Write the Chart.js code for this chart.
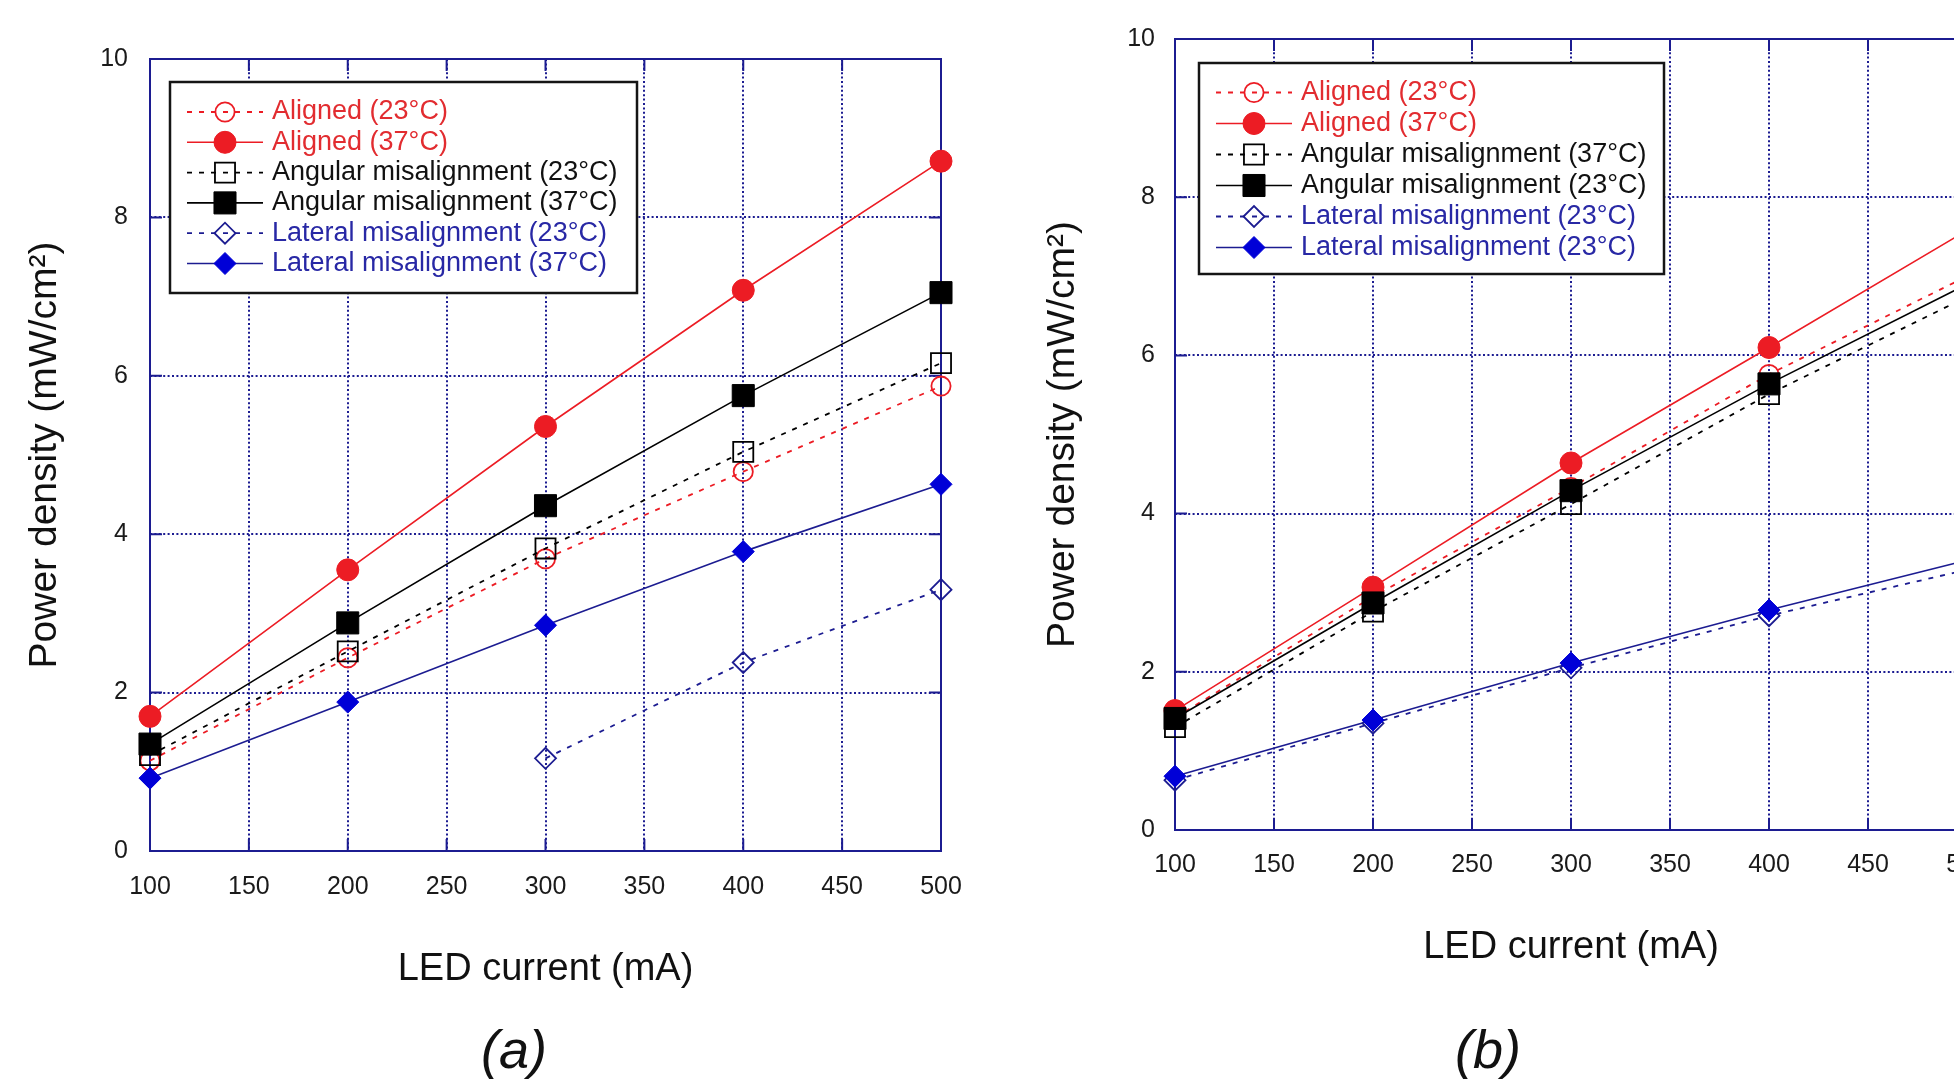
<!DOCTYPE html>
<html>
<head>
<meta charset="utf-8">
<script src="https://cdn.jsdelivr.net/npm/chart.js"></script>
<style>
html, body { margin: 0; padding: 0; background: #fff; overflow: hidden; width: 1954px; height: 1082px; }
canvas { position: absolute; top: 0; }
.panel { position: absolute; top: 1022px; font: italic 54px 'Liberation Sans', Arial, sans-serif; line-height: 54px; transform: translateX(-50%); color: #111; }
</style>
</head>
<body>
<canvas id="chartA" width="977" height="1082" style="left:0"></canvas>
<canvas id="chartB" width="1014" height="1082" style="left:977px"></canvas>
<div class="panel" style="left:514px">(a)</div>
<div class="panel" style="left:1488px">(b)</div>
<script>
// LED current (mA)
const currents = [100, 200, 300, 400, 500];

// panel (a) - power density (mW/cm2)
const aAligned23 = [1.14, 2.44, 3.69, 4.79, 5.87];
const aAligned37 = [1.70, 3.55, 5.36, 7.08, 8.71];
const aAngular23 = [1.21, 2.52, 3.82, 5.04, 6.16];
const aAngular37 = [1.35, 2.88, 4.36, 5.75, 7.05];
const aLateral23 = [null, null, 1.17, 2.38, 3.30];
const aLateral37 = [0.92, 1.88, 2.85, 3.78, 4.63];
const aLabels = ['Aligned (23°C)', 'Aligned (37°C)', 'Angular misalignment (23°C)',
  'Angular misalignment (37°C)', 'Lateral misalignment (23°C)', 'Lateral misalignment (37°C)'];

// panel (b)
const bAligned23 = [1.42, 2.95, 4.33, 5.76, 7.00];
const bAligned37 = [1.51, 3.07, 4.64, 6.10, 7.58];
const bAngular37 = [1.30, 2.76, 4.12, 5.51, 6.74];
const bAngular23 = [1.41, 2.87, 4.29, 5.64, 6.90];
const bLateral23o = [0.63, 1.35, 2.05, 2.71, 3.29];
const bLateral23f = [0.68, 1.39, 2.11, 2.78, 3.41];
const bLabels = ['Aligned (23°C)', 'Aligned (37°C)', 'Angular misalignment (37°C)',
  'Angular misalignment (23°C)', 'Lateral misalignment (23°C)', 'Lateral misalignment (23°C)'];

const yTickMin = 0, yTickMax = 10, yTickStep = 2;
const xTickMin = 100, xTickMax = 500, xTickStep = 50;

const FONT = "'Liberation Sans', Arial, sans-serif";
const RED = 'rgb(236,28,36)';
const NAVY = 'rgb(28,28,145)';
const BLUE = 'rgb(0,0,215)';

// one style per legend row, same order in both panels
const styles = [
  {line: RED, mark: RED, text: 'rgb(226,44,48)', dash: [5, 7], shape: 'circle', r: 9.6, fill: false},
  {line: RED, mark: RED, text: 'rgb(226,44,48)', dash: [], shape: 'circle', r: 11, fill: true},
  {line: '#000', mark: '#000', text: '#111', dash: [5, 7], shape: 'rect', r: 14.2, fill: false},
  {line: '#000', mark: '#000', text: '#111', dash: [], shape: 'rect', r: 15.6, fill: true},
  {line: NAVY, mark: NAVY, text: 'rgb(40,40,165)', dash: [5, 7], shape: 'rectRot', r: 10.5, fill: false},
  {line: NAVY, mark: BLUE, text: 'rgb(40,40,165)', dash: [], shape: 'rectRot', r: 11, fill: true}
];

function makeDatasets(series, labels) {
  return series.map((vals, i) => {
    const st = styles[i];
    return {
      label: labels[i],
      data: currents.map((x, j) => ({x: x, y: vals[j]})),
      borderColor: st.line,
      borderWidth: st.dash.length ? 1.8 : 1.6,
      borderDash: st.dash,
      pointStyle: st.shape,
      pointRadius: st.r,
      pointHoverRadius: st.r,
      pointBackgroundColor: st.fill ? st.mark : 'rgba(0,0,0,0)',
      pointBorderColor: st.mark,
      pointBorderWidth: st.fill ? 1 : 1.8,
      textColor: st.text,
      tension: 0,
      clip: false,
      spanGaps: false,
      order: 10 - i
    };
  });
}

function marker(ctx, shape, r, x, y) {
  ctx.beginPath();
  if (shape === 'circle') {
    ctx.arc(x, y, r, 0, Math.PI * 2);
  } else if (shape === 'rect') {
    const s = r * Math.SQRT1_2;
    ctx.rect(x - s, y - s, 2 * s, 2 * s);
  } else {
    ctx.moveTo(x - r, y); ctx.lineTo(x, y - r); ctx.lineTo(x + r, y); ctx.lineTo(x, y + r);
    ctx.closePath();
  }
  ctx.fill();
  ctx.stroke();
}

// solid frame round the plot with short inward ticks
const frame = {
  id: 'frame',
  beforeDatasetsDraw(chart, args, o) {
    const {ctx, chartArea: a, scales: {x, y}} = chart;
    ctx.save();
    ctx.strokeStyle = o.color;
    ctx.lineWidth = 2;
    ctx.setLineDash([]);
    ctx.strokeRect(a.left, a.top, a.right - a.left, a.bottom - a.top);
    ctx.beginPath();
    x.ticks.forEach(t => {
      const px = x.getPixelForValue(t.value);
      ctx.moveTo(px, a.bottom); ctx.lineTo(px, a.bottom - o.tick);
      ctx.moveTo(px, a.top); ctx.lineTo(px, a.top + o.tick);
    });
    y.ticks.forEach(t => {
      const py = y.getPixelForValue(t.value);
      ctx.moveTo(a.left, py); ctx.lineTo(a.left + o.tick, py);
      ctx.moveTo(a.right, py); ctx.lineTo(a.right - o.tick, py);
    });
    ctx.stroke();
    ctx.restore();
  }
};

// boxed legend inside the plot, line sample with marker in the middle
const boxLegend = {
  id: 'boxLegend',
  afterDatasetsDraw(chart, args, o) {
    const {ctx, chartArea: a} = chart;
    const L = a.left + o.left, T = a.top + o.top;
    ctx.save();
    ctx.fillStyle = '#fff';
    ctx.fillRect(L, T, o.width, o.height);
    ctx.setLineDash([]);
    ctx.lineWidth = 2.5;
    ctx.strokeStyle = '#151515';
    ctx.strokeRect(L, T, o.width, o.height);
    ctx.font = '27px ' + FONT;
    ctx.textBaseline = 'middle';
    ctx.textAlign = 'left';
    chart.data.datasets.forEach((ds, i) => {
      const cy = T + o.firstRow + i * o.rowGap;
      ctx.strokeStyle = ds.borderColor;
      ctx.lineWidth = ds.borderWidth;
      ctx.setLineDash(ds.borderDash);
      ctx.beginPath();
      ctx.moveTo(L + 17, cy); ctx.lineTo(L + 93, cy);
      ctx.stroke();
      ctx.setLineDash([]);
      ctx.fillStyle = ds.pointBackgroundColor;
      ctx.strokeStyle = ds.pointBorderColor;
      ctx.lineWidth = ds.pointBorderWidth;
      marker(ctx, ds.pointStyle, ds.pointRadius, L + 55, cy);
      ctx.fillStyle = ds.textColor;
      ctx.fillText(ds.label, L + 102, cy);
    });
    ctx.restore();
  }
};

function makeChart(id, datasets, lay) {
  return new Chart(document.getElementById(id), {
    type: 'line',
    data: {datasets: datasets},
    plugins: [frame, boxLegend],
    options: {
      responsive: false,
      animation: false,
      events: [],
      layout: {padding: {top: lay.top, right: lay.right, left: 0, bottom: 0}},
      plugins: {
        legend: {display: false},
        tooltip: {enabled: false},
        frame: {color: NAVY, tick: 12},
        boxLegend: lay.legend
      },
      scales: {
        x: {
          type: 'linear',
          min: xTickMin, max: xTickMax,
          afterFit: s => { s.height = lay.xHeight; s.paddingLeft = 0; s.paddingRight = 0; },
          ticks: {stepSize: xTickStep, padding: lay.xPad, color: '#1a1a1a', font: {family: FONT, size: 25}},
          grid: {color: NAVY, lineWidth: 2, drawTicks: false},
          border: {display: false, dash: [2, 2.4]},
          title: {display: true, text: 'LED current (mA)', color: '#111',
            font: {family: FONT, size: 38}, padding: {top: 0, bottom: lay.xTitle}}
        },
        y: {
          min: yTickMin, max: yTickMax,
          afterFit: s => { s.width = lay.yWidth; s.paddingTop = 0; s.paddingBottom = 0; },
          ticks: {stepSize: yTickStep, padding: lay.yPad, color: '#1a1a1a', font: {family: FONT, size: 25}},
          grid: {color: NAVY, lineWidth: 2, drawTicks: false},
          border: {display: false, dash: [2, 2.4]},
          title: {display: true, text: 'Power density (mW/cm²)', color: '#111',
            font: {family: FONT, size: 39}, padding: {top: lay.yTitle, bottom: 0}}
        }
      }
    }
  });
}

makeChart('chartA',
  makeDatasets([aAligned23, aAligned37, aAngular23, aAngular37, aLateral23, aLateral37], aLabels),
  {top: 59, right: 36, xHeight: 231, yWidth: 150, xPad: 21.5, yPad: 22, xTitle: 89.5, yTitle: 22,
   legend: {left: 20, top: 23, width: 467, height: 211, firstRow: 30, rowGap: 30.3}});

makeChart('chartB',
  makeDatasets([bAligned23, bAligned37, bAngular37, bAngular23, bLateral23o, bLateral23f], bLabels),
  {top: 39, right: 24, xHeight: 252, yWidth: 198, xPad: 20, yPad: 20, xTitle: 112, yTitle: 63,
   legend: {left: 24, top: 24, width: 465, height: 211, firstRow: 29.5, rowGap: 31}});
</script>
</body>
</html>
